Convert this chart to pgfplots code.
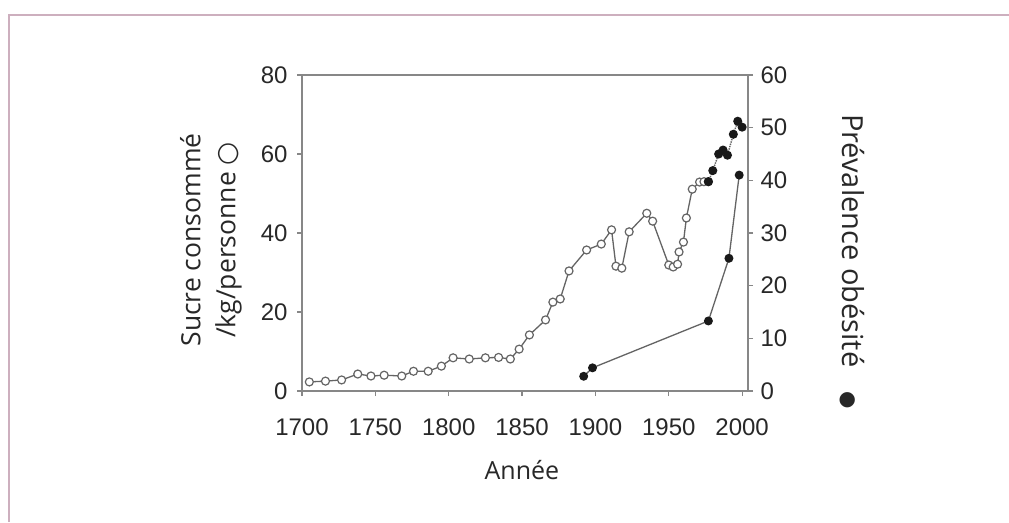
\documentclass[border=0pt]{standalone}
\usepackage{fontspec}
\usepackage{pgfplots}
\pgfplotsset{compat=1.18}
\setmainfont{Open Sans}
\newfontfamily\tickfont{Liberation Sans}
\newfontfamily\dejavu{DejaVu Sans}
\definecolor{framec}{RGB}{205,175,190}
\definecolor{axc}{RGB}{135,135,135}
\definecolor{linec}{RGB}{100,100,100}
\definecolor{txt}{RGB}{40,40,40}

\pgfplotstableread{
year val
1705 2.3
1716 2.5
1727 2.8
1738 4.3
1747 3.8
1756 4.0
1768 3.8
1776 5.0
1786 5.0
1795 6.3
1803 8.4
1814 8.1
1825 8.4
1834 8.5
1842 8.1
1848 10.6
1855 14.2
1866 18.0
1871 22.5
1876 23.3
1882 30.4
1894 35.7
1904 37.2
1911 40.8
1914 31.6
1918 31.1
1923 40.3
1935 45.0
1939 43.0
1950 31.9
1953 31.4
1956 32.1
1957 35.2
1960 37.7
1962 43.8
1966 51.1
1971 52.9
1974 53.0
1977 53.0
}\sugar

\pgfplotstableread{
year val
1977 53.0
1980 55.8
1984 60.0
1987 61.0
1990 59.7
1994 65.0
1997 68.3
2000 66.8
}\sugarus

\pgfplotstableread{
year val
1892 2.8
1898 4.4
1977 13.3
1991 25.2
1998 41.0
}\obesity

\begin{document}
\begin{tikzpicture}
\path[use as bounding box] (0pt,0pt) rectangle (1009pt,-522pt);
\fill[white] (0pt,0pt) rectangle (1009pt,-522pt);
\draw[framec, line width=2.5pt] (9pt,-522pt) -- (9pt,-15pt) -- (1012pt,-15pt);

\begin{axis}[
  at={(302pt,-391pt)}, anchor=south west,
  scale only axis, width=446pt, height=316pt,
  xmin=1700, xmax=2004, ymin=0, ymax=80,
  xtick={1700,1750,...,2000}, ytick={0,20,...,80},
  tick pos=left, tick align=outside,
  major tick length=5pt,
  axis line style={axc, line width=1.6pt},
  every tick/.style={axc, line width=1.2pt},
  tick label style={font=\tickfont\fontsize{24}{24}\selectfont, text=txt,
    /pgf/number format/1000 sep={}, /pgf/number format/assume math mode=true},
  xticklabel style={yshift=-19pt},
  yticklabel style={xshift=-6pt},
  clip=false,
]
\addplot[linec, line width=1.3pt, mark=*, mark size=4pt,
  mark options={solid, fill=white, draw=linec, line width=1.2pt}]
  table[x=year, y=val] {\sugar};
\addplot[linec, line width=1.4pt, densely dotted, mark=*, mark size=3.8pt,
  mark options={solid, fill=black!90, draw=black!90}]
  table[x=year, y=val] {\sugarus};
\node[font=\fontsize{26.5}{35}\selectfont, text=txt, align=center, rotate=90]
  at (axis description cs:-0.204,0.478) {Sucre consommé\\/kg/personne {\dejavu ○}};
\node[font=\fontsize{25}{28}\selectfont, text=txt]
  at (axis description cs:0.493,-0.25) {Année};
\end{axis}

\begin{axis}[
  at={(302pt,-391pt)}, anchor=south west,
  scale only axis, width=446pt, height=316pt,
  xmin=1700, xmax=2004, ymin=0, ymax=60,
  axis x line=none, axis y line*=right,
  ytick={0,10,...,60},
  tick align=outside, major tick length=5pt,
  axis line style={axc, line width=1.6pt},
  every tick/.style={axc, line width=1.2pt},
  tick label style={font=\tickfont\fontsize{24}{24}\selectfont, text=txt,
    /pgf/number format/assume math mode=true},
  yticklabel style={xshift=4pt},
  clip=false,
]
\addplot[linec, line width=1.3pt, mark=*, mark size=3.8pt,
  mark options={solid, fill=black!90, draw=black!90}]
  table[x=year, y=val] {\obesity};
\node[font=\fontsize{29}{32}\selectfont, text=txt, rotate=-90]
  at (axis description cs:1.233,0.41) {Prévalence obésité\hspace{24pt}{\fontsize{20}{20}\selectfont\dejavu ●}};
\end{axis}
\end{tikzpicture}
\end{document}
